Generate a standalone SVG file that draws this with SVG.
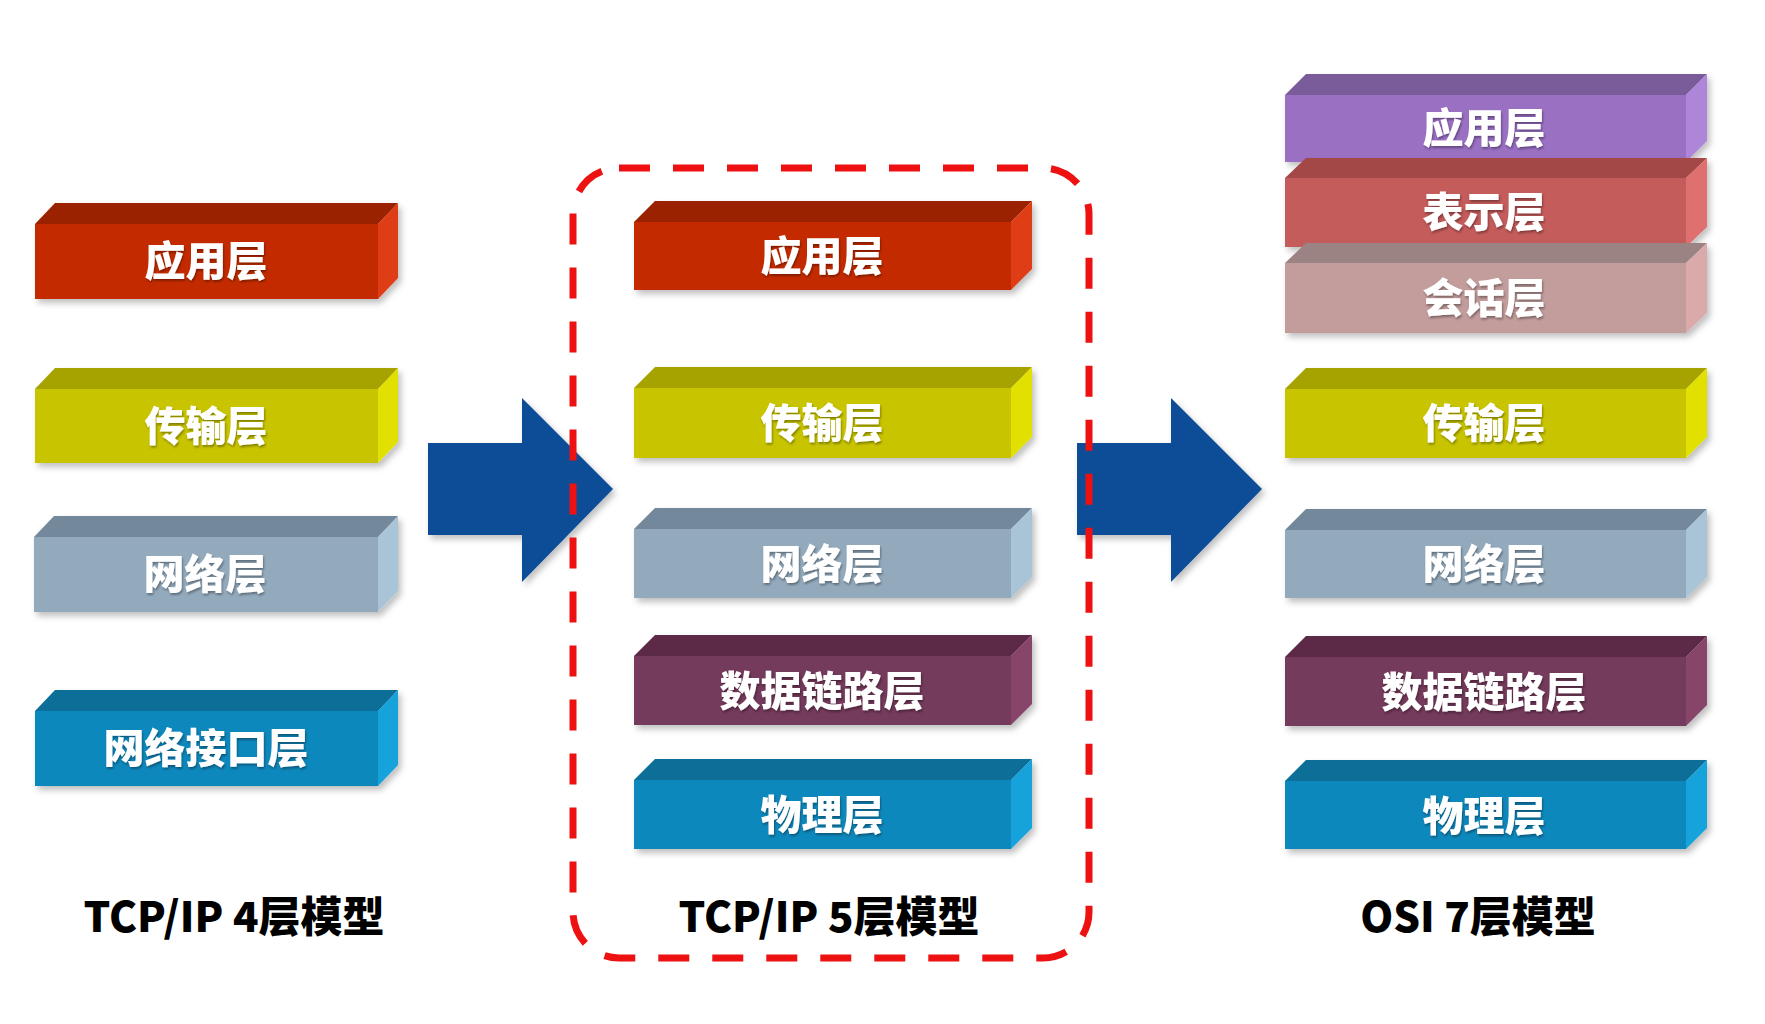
<svg xmlns="http://www.w3.org/2000/svg" width="1765" height="1024" viewBox="0 0 1765 1024">
<defs>
<style>
.lbl{font-family:"Noto Sans CJK SC","Liberation Sans",sans-serif;font-weight:900;font-size:41px;fill:#ffffff;text-anchor:middle}
.cap{font-family:"Noto Sans CJK SC","Liberation Sans",sans-serif;font-weight:900;font-size:42px;fill:#000000;text-anchor:middle}
.red .f{fill:#C42C02}.red .t{fill:#9B2300}.red .s{fill:#DE3C12}
.yel .f{fill:#C8C400}.yel .t{fill:#A6A300}.yel .s{fill:#E2E000}
.gry .f{fill:#93AABD}.gry .t{fill:#73889A}.gry .s{fill:#A9C3D7}
.blu .f{fill:#1088BC}.blu .t{fill:#0D6E98}.blu .s{fill:#17A2DA}
.plm .f{fill:#743A5B}.plm .t{fill:#5B2B47}.plm .s{fill:#874569}
.pur .f{fill:#9A70C3}.pur .t{fill:#7A5B9B}.pur .s{fill:#AD86DA}
.ros .f{fill:#C55B5B}.ros .t{fill:#A34747}.ros .s{fill:#DF6F6F}
.pnk .f{fill:#C39C9C}.pnk .t{fill:#9C8383}.pnk .s{fill:#DAAAAA}
.arrow{fill:#0A4D98}
</style>
<filter id="sh" x="-10%" y="-10%" width="130%" height="130%">
<feDropShadow dx="3" dy="4" stdDeviation="3" flood-color="#000" flood-opacity="0.25"/>
</filter>
<filter id="tsh" x="-10%" y="-20%" width="130%" height="150%">
<feDropShadow dx="1" dy="2" stdDeviation="1" flood-color="#000" flood-opacity="0.35"/>
</filter>
</defs>
<rect width="1765" height="1024" fill="#ffffff"/>

<!-- Left column: TCP/IP 4 layers -->
<g id="l4-app" class="red" filter="url(#sh)">
<polygon class="t" points="35,224 55,203 398,203 378,224"/>
<polygon class="s" points="378,224 398,203 398,278 378,299"/>
<rect class="f" x="35" y="224" width="343" height="75"/>
<text class="lbl" x="206" y="276" filter="url(#tsh)">应用层</text>
</g>
<g id="l4-trans" class="yel" filter="url(#sh)">
<polygon class="t" points="35,389 55,368 398,368 378,389"/>
<polygon class="s" points="378,389 398,368 398,442 378,463"/>
<rect class="f" x="35" y="389" width="343" height="74"/>
<text class="lbl" x="206" y="441" filter="url(#tsh)">传输层</text>
</g>
<g id="l4-net" class="gry" filter="url(#sh)">
<polygon class="t" points="34,537 54,516 398,516 378,537"/>
<polygon class="s" points="378,537 398,516 398,591 378,612"/>
<rect class="f" x="34" y="537" width="344" height="75"/>
<text class="lbl" x="205" y="589" filter="url(#tsh)">网络层</text>
</g>
<g id="l4-netif" class="blu" filter="url(#sh)">
<polygon class="t" points="35,711 55,690 398,690 378,711"/>
<polygon class="s" points="378,711 398,690 398,765 378,786"/>
<rect class="f" x="35" y="711" width="343" height="75"/>
<text class="lbl" x="206" y="763" filter="url(#tsh)">网络接口层</text>
</g>
<g id="l4-caption">
<text class="cap" x="234" y="932">TCP/IP 4层模型</text>
</g>

<!-- Middle column: TCP/IP 5 layers -->
<g id="l5-app" class="red" filter="url(#sh)">
<polygon class="t" points="634,222 655,201 1032,201 1011,222"/>
<polygon class="s" points="1011,222 1032,201 1032,269 1011,290"/>
<rect class="f" x="634" y="222" width="377" height="68"/>
<text class="lbl" x="822" y="271" filter="url(#tsh)">应用层</text>
</g>
<g id="l5-trans" class="yel" filter="url(#sh)">
<polygon class="t" points="634,388 655,367 1032,367 1011,388"/>
<polygon class="s" points="1011,388 1032,367 1032,437 1011,458"/>
<rect class="f" x="634" y="388" width="377" height="70"/>
<text class="lbl" x="822" y="438" filter="url(#tsh)">传输层</text>
</g>
<g id="l5-net" class="gry" filter="url(#sh)">
<polygon class="t" points="634,529 655,508 1032,508 1011,529"/>
<polygon class="s" points="1011,529 1032,508 1032,577 1011,598"/>
<rect class="f" x="634" y="529" width="377" height="69"/>
<text class="lbl" x="822" y="579" filter="url(#tsh)">网络层</text>
</g>
<g id="l5-dl" class="plm" filter="url(#sh)">
<polygon class="t" points="634,656 655,635 1032,635 1011,656"/>
<polygon class="s" points="1011,656 1032,635 1032,704 1011,725"/>
<rect class="f" x="634" y="656" width="377" height="69"/>
<text class="lbl" x="822" y="706" filter="url(#tsh)">数据链路层</text>
</g>
<g id="l5-phys" class="blu" filter="url(#sh)">
<polygon class="t" points="634,780 655,759 1032,759 1011,780"/>
<polygon class="s" points="1011,780 1032,759 1032,828 1011,849"/>
<rect class="f" x="634" y="780" width="377" height="69"/>
<text class="lbl" x="822" y="830" filter="url(#tsh)">物理层</text>
</g>
<g id="l5-caption">
<text class="cap" x="829" y="932">TCP/IP 5层模型</text>
</g>

<!-- Right column: OSI 7 layers -->
<g id="osi-app" class="pur" filter="url(#sh)">
<polygon class="t" points="1285,95 1306,74 1707,74 1686,95"/>
<polygon class="s" points="1686,95 1707,74 1707,141 1686,162"/>
<rect class="f" x="1285" y="95" width="401" height="67"/>
<text class="lbl" x="1484" y="143" filter="url(#tsh)">应用层</text>
</g>
<g id="osi-pres" class="ros" filter="url(#sh)">
<polygon class="t" points="1285,178 1306,158 1707,158 1686,178"/>
<polygon class="s" points="1686,178 1707,158 1707,227 1686,247"/>
<rect class="f" x="1285" y="178" width="401" height="69"/>
<text class="lbl" x="1484" y="227" filter="url(#tsh)">表示层</text>
</g>
<g id="osi-sess" class="pnk" filter="url(#sh)">
<polygon class="t" points="1285,263 1306,243 1707,243 1686,263"/>
<polygon class="s" points="1686,263 1707,243 1707,313 1686,333"/>
<rect class="f" x="1285" y="263" width="401" height="70"/>
<text class="lbl" x="1484" y="313" filter="url(#tsh)">会话层</text>
</g>
<g id="osi-trans" class="yel" filter="url(#sh)">
<polygon class="t" points="1285,389 1306,368 1707,368 1686,389"/>
<polygon class="s" points="1686,389 1707,368 1707,437 1686,458"/>
<rect class="f" x="1285" y="389" width="401" height="69"/>
<text class="lbl" x="1484" y="438" filter="url(#tsh)">传输层</text>
</g>
<g id="osi-net" class="gry" filter="url(#sh)">
<polygon class="t" points="1285,530 1306,509 1707,509 1686,530"/>
<polygon class="s" points="1686,530 1707,509 1707,577 1686,598"/>
<rect class="f" x="1285" y="530" width="401" height="68"/>
<text class="lbl" x="1484" y="579" filter="url(#tsh)">网络层</text>
</g>
<g id="osi-dl" class="plm" filter="url(#sh)">
<polygon class="t" points="1285,657 1306,636 1707,636 1686,657"/>
<polygon class="s" points="1686,657 1707,636 1707,705 1686,726"/>
<rect class="f" x="1285" y="657" width="401" height="69"/>
<text class="lbl" x="1484" y="707" filter="url(#tsh)">数据链路层</text>
</g>
<g id="osi-phys" class="blu" filter="url(#sh)">
<polygon class="t" points="1285,781 1306,760 1707,760 1686,781"/>
<polygon class="s" points="1686,781 1707,760 1707,828 1686,849"/>
<rect class="f" x="1285" y="781" width="401" height="68"/>
<text class="lbl" x="1484" y="831" filter="url(#tsh)">物理层</text>
</g>
<g id="osi-caption">
<text class="cap" x="1478" y="932">OSI 7层模型</text>
</g>

<!-- Connectors: block arrows and dashed frame -->
<g id="connectors">
<polygon class="arrow" filter="url(#sh)" points="428,443 522,443 522,398 613,489 522,582 522,535 428,535"/>
<polygon class="arrow" filter="url(#sh)" points="1077,443 1171,443 1171,398 1262,489 1171,582 1171,535 1077,535"/>
<rect x="573" y="168" width="516" height="790" rx="46" ry="46" fill="none" stroke="#EE1111" stroke-width="7" stroke-dasharray="31 23"/>
</g>
</svg>
